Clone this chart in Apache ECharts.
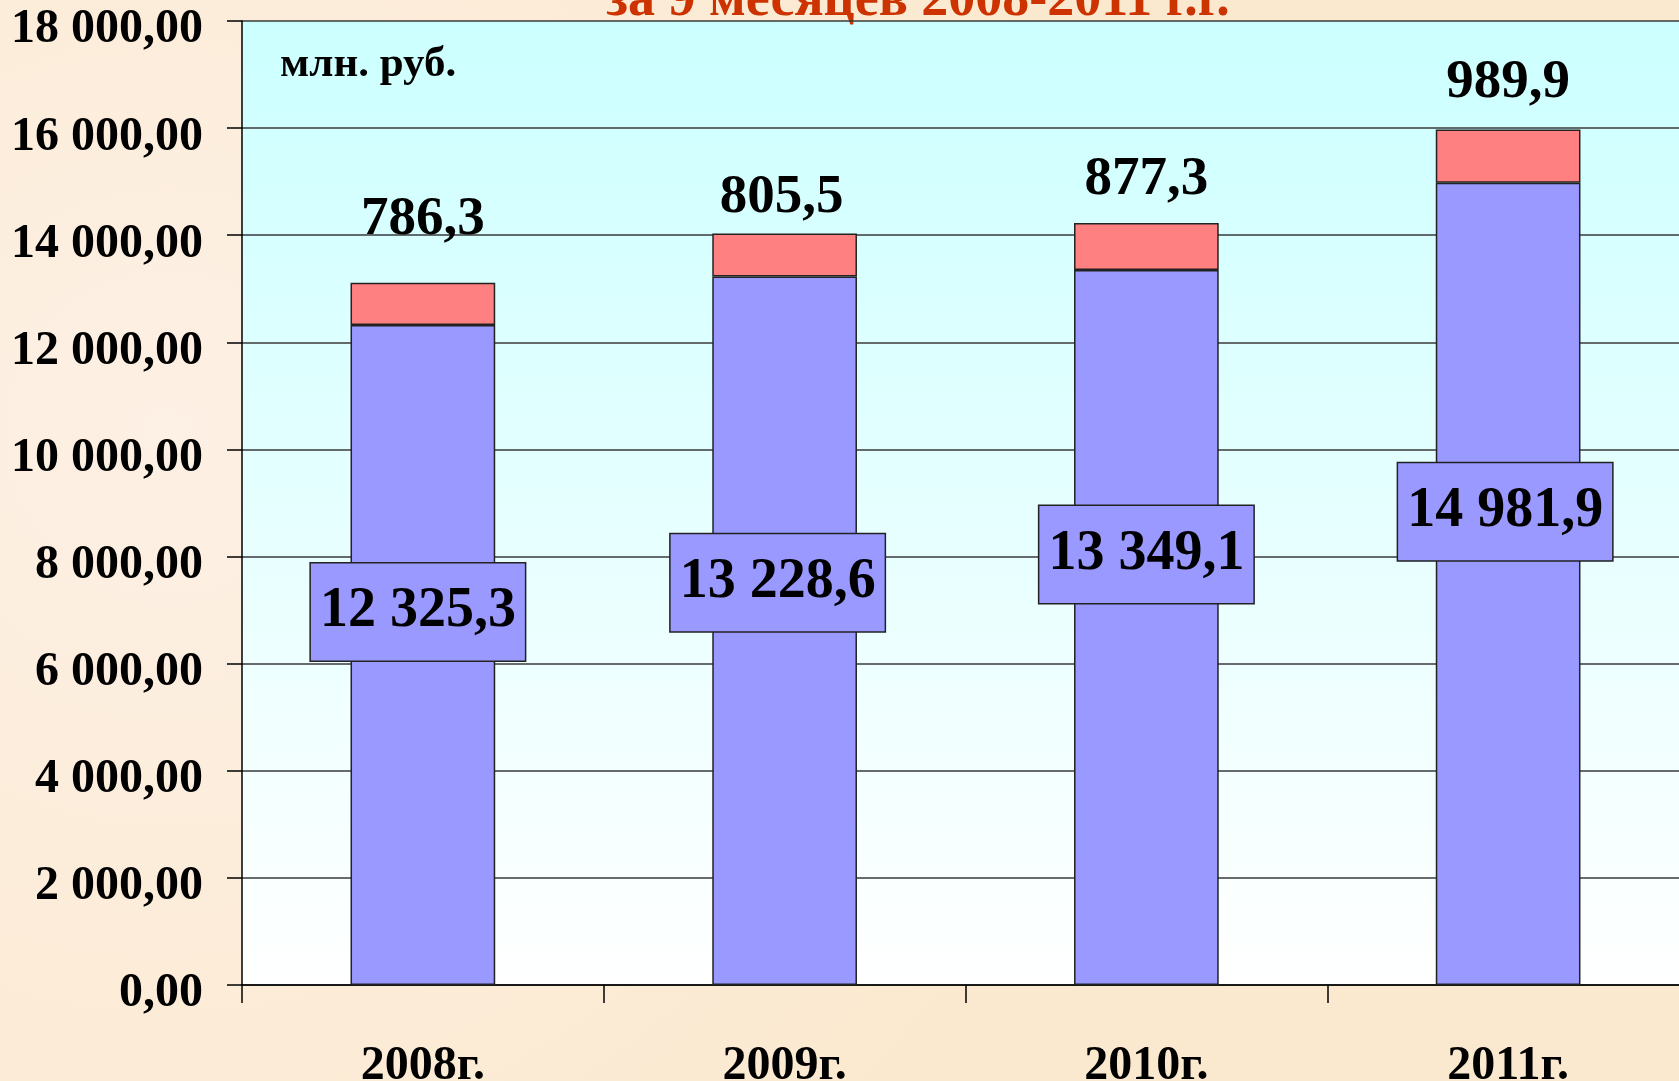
<!DOCTYPE html>
<html>
<head>
<meta charset="utf-8">
<script src="https://cdn.jsdelivr.net/npm/echarts@6/dist/echarts.min.js"></script>
<style>
html, body { margin: 0; padding: 0; background: #fcecd4; }
#chart { width: 1679px; height: 1081px; }
</style>
</head>
<body>
<div id="chart"></div>
<script>
// данные (млн. руб.)
var years = ['2008г.', '2009г.', '2010г.', '2011г.'];
var mainValues = [12325.3, 13228.6, 13349.1, 14981.9];
var extraValues = [786.3, 805.5, 877.3, 989.9];
var yTicks = [0, 2000, 4000, 6000, 8000, 10000, 12000, 14000, 16000, 18000];

// сдвиг подписей, как на исходном слайде
var mainLabelShift = [[-5, -43], [-7, -48], [0, -73], [-3, -72]];
var extraLabelShift = [[0, -31], [-3, -3], [0, -11], [0, -14]];

var FONT = '"Liberation Serif", "Times New Roman", serif';

function fmt(v, digits) {
    var s = v.toFixed(digits).split('.');
    var int = s[0].replace(/\B(?=(\d{3})+(?!\d))/g, ' ');
    return s[1] ? int + ',' + s[1] : int;
}

var myChart = echarts.init(document.getElementById('chart'));

var option = {
    backgroundColor: new echarts.graphic.RadialGradient(0.1, 0.4, 0.9, [
        { offset: 0, color: '#fdf0e4' },
        { offset: 1, color: '#fbe9cf' }
    ]),
    animation: false,
    grid: {
        left: 242,
        right: -10,
        top: 21,
        bottom: 96,
        outerBoundsMode: 'none',
        show: true,
        borderWidth: 0,
        backgroundColor: new echarts.graphic.LinearGradient(0, 0, 0, 1, [
            { offset: 0, color: '#ccffff' },
            { offset: 1, color: '#ffffff' }
        ])
    },
    graphic: [
        {
            type: 'text',
            left: 280,
            top: 43,
            style: {
                text: 'млн. руб.',
                font: 'bold 43px ' + FONT,
                fill: '#000'
            }
        },
        {
            type: 'text',
            x: 918,
            y: 1,
            style: {
                text: 'за 9 месяцев 2008-2011 г.г.',
                font: 'bold 54px ' + FONT,
                fill: '#cc3300',
                align: 'center',
                verticalAlign: 'middle'
            }
        }
    ],
    xAxis: {
        type: 'category',
        data: years,
        boundaryGap: true,
        axisLine: { lineStyle: { color: '#000', width: 1.5 } },
        axisTick: { show: true, length: 18, lineStyle: { color: '#000', width: 1.5 } },
        axisLabel: {
            margin: 58,
            color: '#000',
            fontFamily: FONT,
            fontWeight: 'bold',
            fontSize: 48
        }
    },
    yAxis: {
        type: 'value',
        min: 0,
        max: 18000,
        interval: 2000,
        axisLine: { show: true, lineStyle: { color: '#000', width: 1.5 } },
        axisTick: { show: true, length: 15, lineStyle: { color: '#000', width: 1.5 } },
        splitLine: { lineStyle: { color: '#3a3a3a', width: 1.5 } },
        axisLabel: {
            margin: 39,
            formatter: function (v) {
                return yTicks.indexOf(v) >= 0 ? '{v|' + fmt(v, 2) + '}' : '';
            },
            rich: {
                v: {
                    color: '#000',
                    fontFamily: FONT,
                    fontWeight: 'bold',
                    fontSize: 48,
                    padding: [18, 0, 0, 0]
                }
            }
        }
    },
    series: [
        {
            type: 'bar',
            stack: 'total',
            barWidth: '40%',
            itemStyle: { color: '#9999ff', borderColor: '#222', borderWidth: 1.5 },
            data: mainValues.map(function (v, i) {
                return {
                    value: v,
                    label: { offset: mainLabelShift[i] }
                };
            }),
            label: {
                show: true,
                position: 'inside',
                formatter: function (p) { return fmt(p.value, 1); },
                color: '#000',
                fontFamily: FONT,
                fontWeight: 'bold',
                fontSize: 56,
                backgroundColor: '#9999ff',
                borderColor: '#222',
                borderWidth: 1.5,
                padding: [25, 9, 16, 9]
            }
        },
        {
            type: 'bar',
            stack: 'total',
            barWidth: '40%',
            itemStyle: { color: '#ff8080', borderColor: '#222', borderWidth: 1.5 },
            data: extraValues.map(function (v, i) {
                return {
                    value: v,
                    label: { offset: extraLabelShift[i] }
                };
            }),
            label: {
                show: true,
                position: 'top',
                formatter: function (p) { return fmt(p.value, 1); },
                color: '#000',
                fontFamily: FONT,
                fontWeight: 'bold',
                fontSize: 55
            }
        }
    ]
};

myChart.setOption(option);
</script>
</body>
</html>
